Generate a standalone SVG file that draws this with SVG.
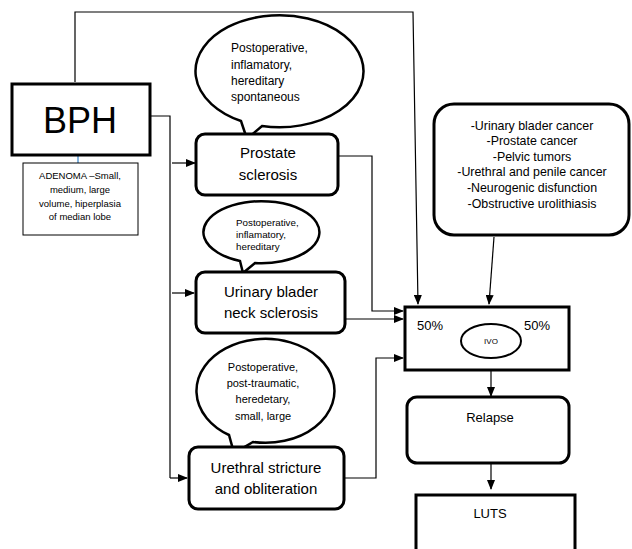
<svg xmlns="http://www.w3.org/2000/svg" width="632" height="549" viewBox="0 0 632 549">
<defs>
<marker id="ah" markerWidth="10" markerHeight="8" refX="9" refY="4" orient="auto" markerUnits="userSpaceOnUse">
<path d="M0,0 L10,4 L0,8 Z" fill="#000"/>
</marker>
<style>
text{font-family:"Liberation Sans",Arial,sans-serif;fill:#000}
.thick{fill:#fff;stroke:#000;stroke-width:3}
.thin{fill:#fff;stroke:#000;stroke-width:1}
.bub{fill:#fff;stroke:#000;stroke-width:2.5;stroke-linejoin:miter}
.ln{fill:none;stroke:#000;stroke-width:1.2}
.arr{fill:none;stroke:#000;stroke-width:1.2;marker-end:url(#ah)}
.c{text-anchor:middle}
</style>
</defs>
<rect width="632" height="549" fill="#fff"/>

<g id="connectors">
<polyline class="arr" points="75,82 75,12 413,12 418,304"/>
<line x1="78" y1="156" x2="78" y2="163" stroke="#5b9bd5" stroke-width="1.5"/>
<polyline class="ln" points="151,116 170,116 170,478"/>
<line class="arr" x1="172" y1="163" x2="195" y2="163"/>
<line class="arr" x1="172" y1="293" x2="194" y2="293"/>
<polyline class="arr" points="170,478 187,478"/>
<polyline class="arr" points="339,156 372,156 372,311 403,311"/>
<line class="arr" x1="346" y1="319" x2="403" y2="319"/>
<polyline class="arr" points="345,478 376,478 376,358 403,358"/>
<line class="arr" x1="494" y1="237" x2="489" y2="304"/>
<line class="arr" x1="491" y1="371" x2="491" y2="396"/>
<line class="arr" x1="491" y1="464" x2="491" y2="489"/>
</g>

<g id="bph">
<rect class="thick" x="12" y="84" width="138" height="71"/>
<text class="c" x="80" y="133" font-size="36">BPH</text>
</g>

<g id="adenoma">
<rect class="thin" x="23" y="163" width="115" height="72"/>
<text class="c" font-size="9.5"><tspan x="80" y="179">ADENOMA –Small,</tspan><tspan x="80" y="193">medium, large</tspan><tspan x="80" y="207">volume, hiperplasia</tspan><tspan x="80" y="220">of median lobe</tspan></text>
</g>

<g id="bubble1">
<path class="bub" d="M241,121 A84,56 0 1 1 262,126 L247,139 Z"/>
<text font-size="12"><tspan x="231" y="52">Postoperative,</tspan><tspan x="231" y="69">inflamatory,</tspan><tspan x="231" y="85">hereditary</tspan><tspan x="231" y="101">spontaneous</tspan></text>
</g>

<g id="prostate">
<rect class="thick" x="196" y="134" width="142" height="61" rx="9"/>
<text class="c" font-size="15"><tspan x="268" y="158">Prostate</tspan><tspan x="268" y="180">sclerosis</tspan></text>
</g>

<g id="bubble2">
<path class="bub" d="M240,261 A58,31 0 1 1 255,263 L243,273 Z"/>
<text font-size="9.8"><tspan x="236" y="226">Postoperative,</tspan><tspan x="236" y="238">inflamatory,</tspan><tspan x="236" y="250">hereditary</tspan></text>
</g>

<g id="urinary">
<rect class="thick" x="196" y="272" width="149" height="61" rx="9"/>
<text class="c" font-size="15"><tspan x="271" y="297">Urinary blader</tspan><tspan x="271" y="318">neck sclerosis</tspan></text>
</g>

<g id="bubble3">
<path class="bub" d="M229,435 A69,52 0 1 1 253,442 L234,453 Z"/>
<text class="c" font-size="11"><tspan x="263" y="371">Postoperative,</tspan><tspan x="263" y="387">post-traumatic,</tspan><tspan x="263" y="403">heredetary,</tspan><tspan x="263" y="420">small, large</tspan></text>
</g>

<g id="urethral">
<rect class="thick" x="189" y="447" width="155" height="62" rx="9"/>
<text class="c" font-size="15"><tspan x="266" y="473">Urethral stricture</tspan><tspan x="266" y="494">and obliteration</tspan></text>
</g>

<g id="causes">
<rect class="thick" x="434" y="104" width="195" height="131" rx="20"/>
<text class="c" font-size="12.4"><tspan x="532" y="130">-Urinary blader cancer</tspan><tspan x="532" y="145">-Prostate cancer</tspan><tspan x="532" y="161">-Pelvic tumors</tspan><tspan x="532" y="176">-Urethral and penile cancer</tspan><tspan x="532" y="192">-Neurogenic disfunction</tspan><tspan x="532" y="208">-Obstructive urolithiasis</tspan></text>
</g>

<g id="ivo">
<rect class="thick" x="405" y="307" width="164" height="63"/>
<text font-size="13" x="417" y="330">50%</text>
<text font-size="13" x="524" y="330">50%</text>
<ellipse cx="491" cy="341" rx="30" ry="17" fill="#fff" stroke="#000" stroke-width="2"/>
<text class="c" font-size="8" x="491" y="344">IVO</text>
</g>

<g id="relapse">
<rect class="thick" x="407" y="397" width="162" height="66" rx="10"/>
<text class="c" font-size="13" x="490" y="422">Relapse</text>
</g>

<g id="luts">
<rect class="thick" x="416" y="495" width="159" height="70"/>
<text class="c" font-size="13" x="490" y="518">LUTS</text>
</g>
</svg>
